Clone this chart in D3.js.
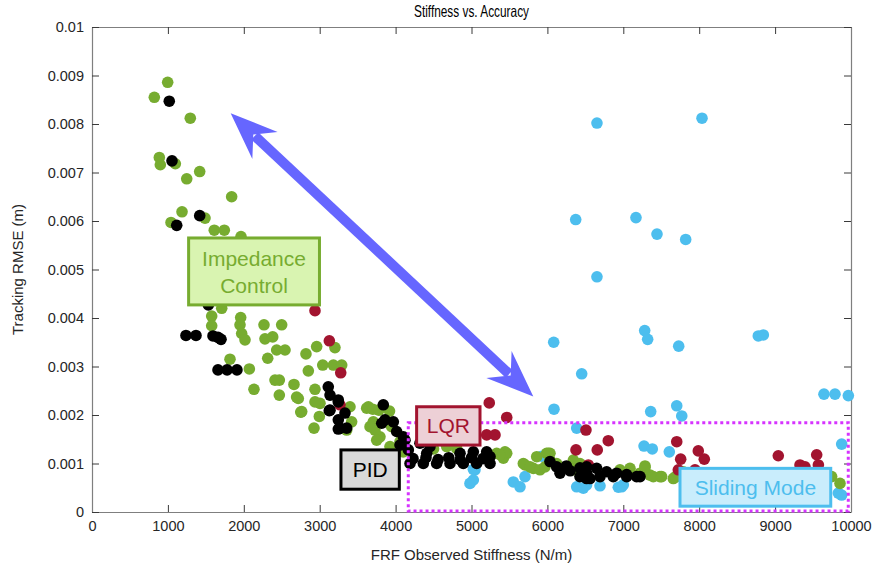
<!DOCTYPE html>
<html>
<head>
<meta charset="utf-8">
<script src="https://cdn.jsdelivr.net/npm/d3@7"></script>
<style>
body { margin: 0; background: #fff; }
svg text { font-family: "Liberation Sans", Arial, sans-serif; }
</style>
</head>
<body>
<svg width="878" height="573"></svg>
<script>
const GREEN_COLOR = '#77AC30';
const BLACK_COLOR = '#000000';
const RED_COLOR = '#A2142F';
const BLUE_COLOR = '#4DBEEE';
const ARROW_COLOR = '#6666FF';
const BOX_COLOR = '#d633ff';

var x_ticks = [0, 1000, 2000, 3000, 4000, 5000, 6000, 7000, 8000, 9000, 10000];
var x_tick_labels = ['0', '1000', '2000', '3000', '4000', '5000', '6000', '7000', '8000', '9000', '10000'];
var y_ticks = [0, 0.001, 0.002, 0.003, 0.004, 0.005, 0.006, 0.007, 0.008, 0.009, 0.01];
var y_tick_labels = ['0', '0.001', '0.002', '0.003', '0.004', '0.005', '0.006', '0.007', '0.008', '0.009', '0.01'];

// impedance control runs [stiffness, rmse]
var green_pts = [
    [997,0.00886],[821,0.00855],[1295,0.00812],[887,0.00731],[900,0.00716],[1098,0.00718],
    [1248,0.00687],[1419,0.00702],[1840,0.00650],[1186,0.00619],[1041,0.00597],[1489,0.00606],
    [1611,0.00581],[1743,0.00581],[1963,0.00568],[1709,0.00420],[1577,0.00404],[1959,0.00401],
    [1577,0.00384],[1950,0.00386],[2266,0.00386],[2499,0.00386],[1972,0.00368],[2016,0.00355],
    [2279,0.00357],[2381,0.00361],[2433,0.00334],[2543,0.00334],[2960,0.00341],[3201,0.00339],
    [2819,0.00326],[1818,0.00315],[2315,0.00317],[2073,0.00295],[3040,0.00303],[3180,0.00303],
    [3290,0.00303],[2850,0.00291],[2411,0.00272],[2468,0.00272],[2661,0.00263],[2134,0.00253],
    [2468,0.00241],[2718,0.00234],[2750,0.00206],[2938,0.00253],[3004,0.00224],[2925,0.00173],
    [2995,0.00197],[2696,0.00237],[2763,0.00207],[2938,0.00227],[3399,0.00217],[3421,0.00186],
    [3356,0.00169],[3641,0.00217],[3706,0.00186],[3728,0.00169],[3794,0.00155],[3948,0.00176],
    [4058,0.00145],[3619,0.00214],[3663,0.00176],[3751,0.00148],[3926,0.00135],[4101,0.00124],
    [3700,0.00212],[3780,0.00210],[3920,0.00208],[4500,0.00130],[4673,0.00135],[4805,0.00131],
    [5332,0.00121],[5420,0.00111],[5464,0.00121],[5441,0.00124],[5375,0.00118],[5705,0.00097],
    [5815,0.00090],[6034,0.00121],[5859,0.00114],[5683,0.00100],[5771,0.00093],[5902,0.00087],
    [5990,0.00121],[6034,0.00107],[6342,0.00107],[6012,0.00121],[5968,0.00093],[6122,0.00100],
    [6342,0.00087],[6429,0.00100],[6956,0.00087],[7088,0.00090],[7220,0.00080],[7286,0.00095],
    [7352,0.00076],[7483,0.00073],[7659,0.00069],[7791,0.00083],[7286,0.00092],[7395,0.00073],
    [7505,0.00073],[7681,0.00072],[9745,0.00073],[9855,0.00059]
];

// pid runs
var black_pts = [
    [1018,0.00847],[1054,0.00724],[1116,0.00591],[1419,0.00611],[1533,0.00427],[1238,0.00364],
    [1370,0.00364],[1594,0.00363],[1660,0.00360],[1700,0.00356],[1660,0.00293],[1780,0.00293],
    [1910,0.00293],[3113,0.00258],[3136,0.00241],[3245,0.00227],[3126,0.00209],[3333,0.00204],
    [3245,0.00171],[3356,0.00173],[3245,0.00231],[3136,0.00210],[3267,0.00173],[3245,0.00190],
    [3838,0.00221],[3860,0.00190],[3817,0.00183],[3970,0.00186],[4014,0.00166],[4102,0.00155],
    [4058,0.00138],[4168,0.00128],[4124,0.00148],[4321,0.00142],[4453,0.00135],[4410,0.00121],
    [4190,0.00100],[4365,0.00100],[4541,0.00100],[4717,0.00100],[4892,0.00100],[5068,0.00100],
    [5244,0.00100],[4849,0.00121],[5024,0.00124],[5200,0.00124],[5244,0.00114],[4230,0.00110],
    [4400,0.00112],[4560,0.00108],[4700,0.00112],[4850,0.00108],[5000,0.00112],[5150,0.00110],
    [6034,0.00104],[6122,0.00093],[6166,0.00080],[6429,0.00091],[6517,0.00080],[6517,0.00069],
    [6693,0.00073],[6868,0.00073],[7044,0.00073],[7220,0.00073],[6517,0.00093],[6649,0.00090],
    [6781,0.00083],[6912,0.00080],[7044,0.00077],[7176,0.00073],[6429,0.00073],[6561,0.00069],
    [6250,0.00095],[6300,0.00085]
];

// lqr runs
var red_pts = [
    [2938,0.00415],[3127,0.00353],[3277,0.00287],[3267,0.00221],[5234,0.00225],[5464,0.00195],
    [5200,0.00159],[5310,0.00159],[6377,0.00128],[6508,0.00169],[6657,0.00128],[6802,0.00147],
    [6539,0.00097],[7704,0.00145],[7756,0.00109],[7988,0.00126],[8067,0.00109],[9042,0.00116],
    [9328,0.00097],[9394,0.00093],[9548,0.00118],[9570,0.00097],[7725,0.00087],[7945,0.00087]
];

// sliding mode runs
var blue_pts = [
    [6653,0.00802],[8037,0.00812],[6373,0.00603],[7167,0.00607],[7444,0.00573],[7822,0.00562],
    [6653,0.00485],[6083,0.00350],[7282,0.00374],[7321,0.00356],[7730,0.00342],[8779,0.00363],
    [8845,0.00365],[6452,0.00285],[6087,0.00212],[7361,0.00207],[7704,0.00219],[7770,0.00198],
    [9644,0.00243],[9789,0.00243],[9965,0.00240],[6386,0.00173],[5925,0.00115],[7273,0.00136],
    [7382,0.00130],[7606,0.00124],[9877,0.00140],[5046,0.00087],[5024,0.00088],[4980,0.00059],
    [5024,0.00066],[5551,0.00062],[5639,0.00052],[5705,0.00073],[6386,0.00052],[6473,0.00049],
    [6517,0.00056],[6693,0.00054],[6934,0.00051],[6978,0.00052],[7000,0.00056],[9833,0.00039],
    [9877,0.00035]
];

var label_texts = [['Impedance', 'Control'], ['LQR'], ['PID'], ['Sliding Mode']];

var svg = d3.select("svg");
var plot_l = 92, plot_r = 851, plot_t = 27, plot_b = 512;

var x = d3.scaleLinear().domain([0, 10000]).range([plot_l, plot_r]);
var y = d3.scaleLinear().domain([0, 0.01]).range([plot_b, plot_t]);

// axes box, ticks pointing inward
function style_axis(g){
    g.select(".domain").attr("stroke", "#7f7f7f").attr("stroke-width", 1.2);
    g.selectAll(".tick line").attr("stroke", "#3a3a3a");
    g.selectAll(".tick text").attr("fill", "#262626")
        .style("font-size", "14.5px");
}

svg.append("g")
    .attr("transform", "translate(0," + plot_b + ")")
    .call(d3.axisBottom(x).tickValues(x_ticks)
        .tickFormat(function(d, i){ return x_tick_labels[i]; })
        .tickSizeInner(-7).tickSizeOuter(0).tickPadding(9))
    .call(style_axis);

svg.append("g")
    .attr("transform", "translate(0," + plot_t + ")")
    .call(d3.axisTop(x).tickValues(x_ticks).tickFormat("")
        .tickSizeInner(-7).tickSizeOuter(0))
    .call(style_axis);

svg.append("g")
    .attr("transform", "translate(" + plot_l + ",0)")
    .call(d3.axisLeft(y).tickValues(y_ticks)
        .tickFormat(function(d, i){ return y_tick_labels[i]; })
        .tickSizeInner(-7).tickSizeOuter(0).tickPadding(8))
    .call(style_axis);

svg.append("g")
    .attr("transform", "translate(" + plot_r + ",0)")
    .call(d3.axisRight(y).tickValues(y_ticks).tickFormat("")
        .tickSizeInner(-7).tickSizeOuter(0))
    .call(style_axis);

// scatter series, drawn blue first, black last
var series = [
    {pts: blue_pts, color: BLUE_COLOR},
    {pts: green_pts, color: GREEN_COLOR},
    {pts: red_pts, color: RED_COLOR},
    {pts: black_pts, color: BLACK_COLOR}
];

series.forEach(function(s){
    svg.append("g").selectAll("circle")
        .data(s.pts)
        .enter().append("circle")
        .attr("cx", function(d){ return x(d[0]); })
        .attr("cy", function(d){ return y(d[1]); })
        .attr("r", 5.8)
        .attr("fill", s.color);
});

// dotted region around the low error runs
var region = {x0: 4167, x1: 9964, y0: 0.00002, y1: 0.00184};
svg.append("rect")
    .attr("x", x(region.x0))
    .attr("y", y(region.y1))
    .attr("width", x(region.x1) - x(region.x0))
    .attr("height", y(region.y0) - y(region.y1))
    .attr("fill", "none")
    .attr("stroke", BOX_COLOR)
    .attr("stroke-width", 3)
    .attr("stroke-dasharray", "3,3");

// double headed arrow
var arrow_ends = [[1827, 0.00822], [5814, 0.00238]];
function draw_arrow(){
    var p0 = [x(arrow_ends[0][0]), y(arrow_ends[0][1])];
    var p1 = [x(arrow_ends[1][0]), y(arrow_ends[1][1])];
    var dx = p1[0] - p0[0], dy = p1[1] - p0[1];
    var len = Math.sqrt(dx*dx + dy*dy);
    var u = [dx/len, dy/len];
    var n = [-u[1], u[0]];
    var L = 47, W = 18.5, N = 31;

    svg.append("line")
        .attr("x1", p0[0] + u[0]*(N+2)).attr("y1", p0[1] + u[1]*(N+2))
        .attr("x2", p1[0] - u[0]*(N+2)).attr("y2", p1[1] - u[1]*(N+2))
        .attr("stroke", ARROW_COLOR)
        .attr("stroke-width", 10);

    [[p0, 1], [p1, -1]].forEach(function(h){
        var t = h[0], s = h[1];
        var pts = [
            t,
            [t[0] + s*u[0]*L + n[0]*W, t[1] + s*u[1]*L + n[1]*W],
            [t[0] + s*u[0]*N, t[1] + s*u[1]*N],
            [t[0] + s*u[0]*L - n[0]*W, t[1] + s*u[1]*L - n[1]*W]
        ];
        svg.append("polygon")
            .attr("points", pts.map(function(p){ return p.join(","); }).join(" "))
            .attr("fill", ARROW_COLOR);
    });
}
draw_arrow();

// labelled text boxes [x0, y0, x1, y1] in data units
var label_boxes = [
    {box: [1273, 0.00565, 2997, 0.00427], stroke: GREEN_COLOR, fill: '#d9f4b1', color: GREEN_COLOR},
    {box: [4277, 0.00217, 5112, 0.00138], stroke: RED_COLOR, fill: '#edd0d6', color: RED_COLOR},
    {box: [3280, 0.00128, 4049, 0.00047], stroke: BLACK_COLOR, fill: '#d9d9d9', color: '#000'},
    {box: [7747, 0.00090, 9733, 0.00012], stroke: BLUE_COLOR, fill: '#c9edfc', color: BLUE_COLOR}
];

label_boxes.forEach(function(b, i){
    var x0 = x(b.box[0]), x1 = x(b.box[2]);
    var y0 = y(b.box[1]), y1 = y(b.box[3]);
    svg.append("rect")
        .attr("x", x0).attr("y", y0)
        .attr("width", x1 - x0).attr("height", y1 - y0)
        .attr("fill", b.fill)
        .attr("stroke", b.stroke)
        .attr("stroke-width", 3);
    var lines = label_texts[i];
    var cy = (y0 + y1) / 2;
    var lh = 27;
    lines.forEach(function(t, j){
        svg.append("text")
            .attr("x", (x0 + x1) / 2)
            .attr("y", cy + (j - (lines.length - 1) / 2) * lh)
            .attr("dy", "0.36em")
            .attr("text-anchor", "middle")
            .attr("fill", b.color)
            .style("font-size", "21px")
            .text(t);
    });
});

// titles
svg.append("text")
    .attr("x", (plot_l + plot_r) / 2)
    .attr("y", 17)
    .attr("text-anchor", "middle")
    .attr("fill", "#000")
    .attr("textLength", 115)
    .attr("lengthAdjust", "spacingAndGlyphs")
    .style("font-size", "16.5px")
    .text("Stiffness vs. Accuracy");

svg.append("text")
    .attr("x", (plot_l + plot_r) / 2)
    .attr("y", 560)
    .attr("text-anchor", "middle")
    .attr("fill", "#262626")
    .style("font-size", "15px")
    .text("FRF Observed Stiffness (N/m)");

svg.append("text")
    .attr("transform", "translate(23," + ((plot_t + plot_b) / 2) + ") rotate(-90)")
    .attr("text-anchor", "middle")
    .attr("fill", "#262626")
    .style("font-size", "15px")
    .text("Tracking RMSE (m)");
</script>
</body>
</html>
